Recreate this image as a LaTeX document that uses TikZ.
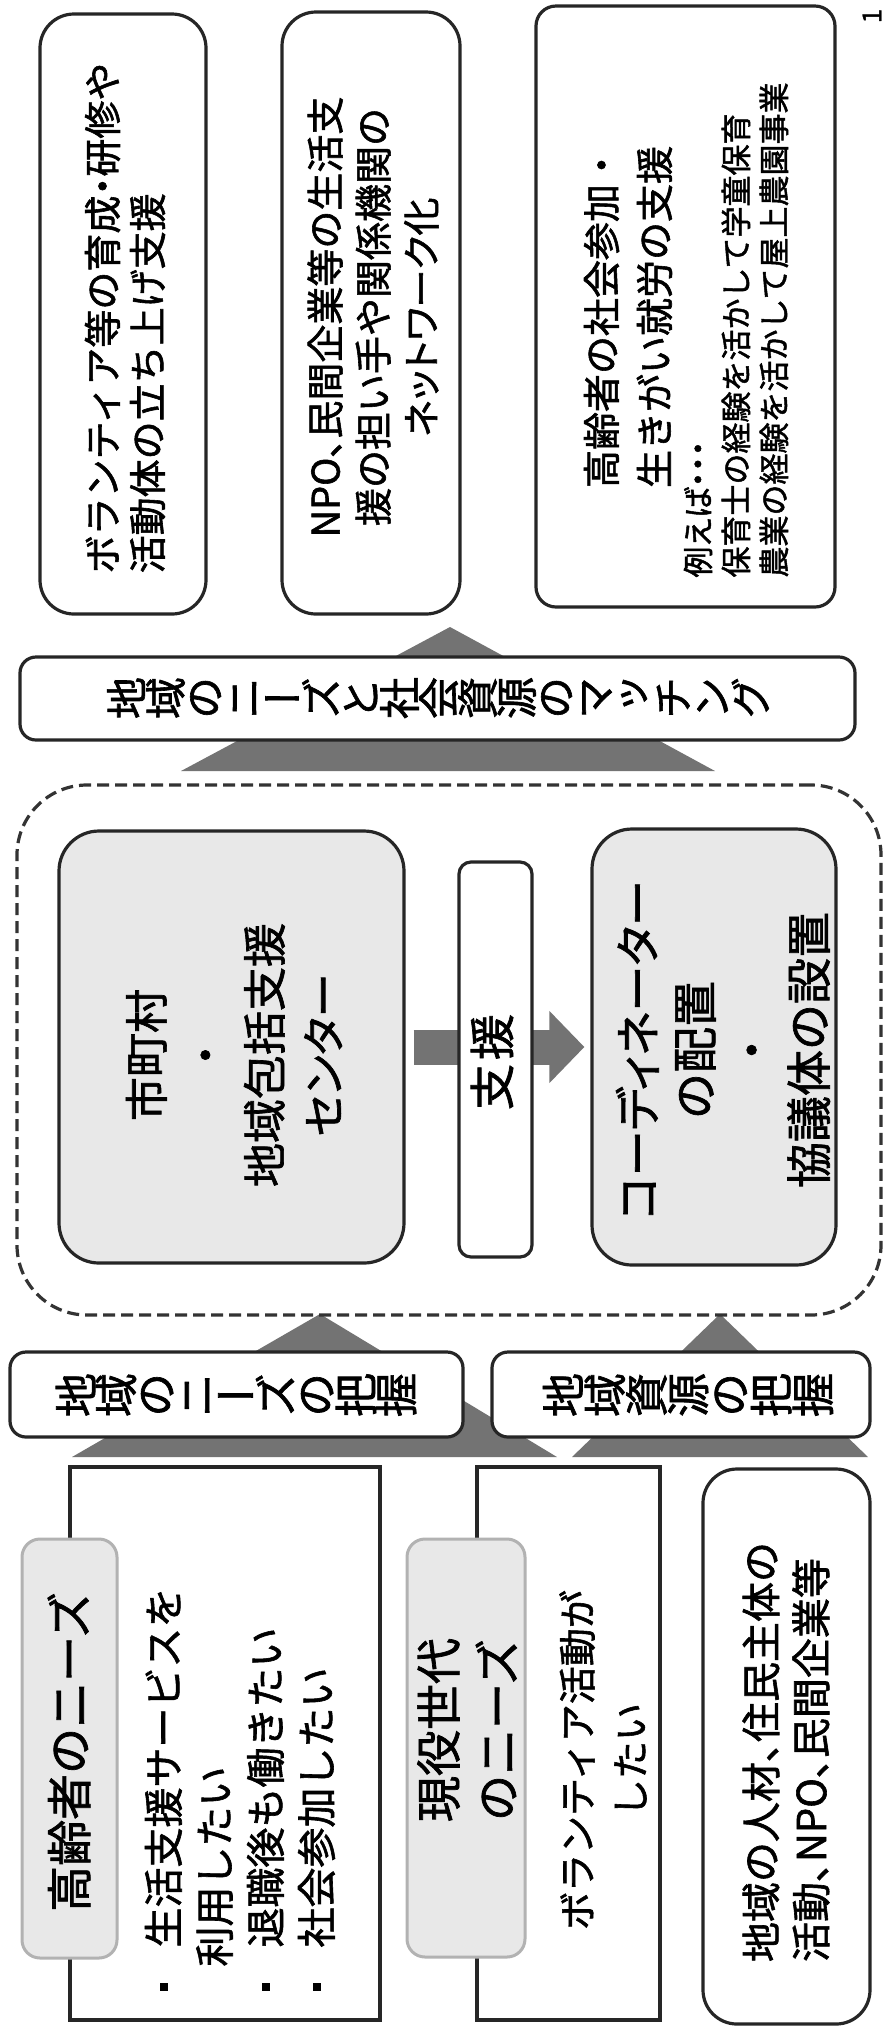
\documentclass[tikz,border=0pt]{standalone}
\usepackage{fontspec}
\setmainfont{Noto Sans CJK JP}[FakeBold=1.5]
\newfontfamily\kana{Noto Sans CJK JP}[RawFeature=+palt,FakeBold=1.5]
\newfontfamily\tate{Noto Sans CJK JP}[RawFeature=+vert,FakeBold=1.5]
\usetikzlibrary{arrows.meta}
\lineskiplimit=-100pt
\newcommand\needbullet{\rule[5.5pt]{4pt}{4pt}\hspace{17.5pt}}

\begin{document}
\begin{tikzpicture}[x=0.5pt,y=-0.5pt,
		roundbox/.style={draw=black!85,line width=1.6pt,fill=white,inner sep=0pt},
		graybox/.style={roundbox,fill=black!9,rounded corners=20pt},
		labelbox/.style={draw=black!30,line width=1.5pt,fill=black!9,rounded corners=9pt,inner sep=0pt},
		needbox/.style={draw=black!85,line width=1.6pt,fill=white,inner sep=0pt},
		region/.style={draw=black!80,line width=1.6pt,dash pattern=on 6pt off 3pt,rounded corners=35pt,inner sep=0pt},
		shade/.style={fill=black!55},
		yoko/.style={rotate=90,inner sep=0pt},
		tatebox/.style={rotate=90,inner sep=0pt,align=center},
		support/.style={line width=17.5pt,draw=black!55,-{Triangle[length=17.5pt,width=35pt]},shorten <=4pt,shorten >=3pt}]
	
	\useasboundingbox (0,0) rectangle (886,2031);
	
	\fill[shade] (181,771) -- (450,627) -- (715,771) -- cycle;
	\fill[shade] (72,1457) -- (320,1314) -- (557,1457) -- cycle;
	\fill[shade] (572,1457) -- (720,1314) -- (868,1457) -- cycle;
	
	\draw (123,314) node[roundbox,rounded corners=17pt,minimum width=83pt,minimum height=300pt] (volBox) {};
	\draw (125,318) node[yoko,align=left,font=\fontsize{19}{22.5}\selectfont] (volText) {ボランティア等の育成{\kana ・}研修や\\活動体の立ち上げ支援};
	
	\draw (371,313) node[roundbox,rounded corners=17pt,minimum width=89pt,minimum height=301pt] (npoBox) {};
	\draw (373,317) node[yoko,align=center,font=\fontsize{19}{24}\selectfont] (npoText) {NPO{\kana 、}民間企業等の生活支\\援の担い手や関係機関の\\{\kana ネットワーク化}};
	
	\draw (685.5,306.5) node[roundbox,rounded corners=10pt,minimum width=149.5pt,minimum height=300.5pt] (elderBox) {};
	\draw (628,317) node[yoko,align=left,font=\fontsize{19}{26.5}\selectfont] (elderText) {高齢者の社会参加・\\生きがい就労の支援};
	\draw (736,330) node[yoko,align=left,font=\fontsize{15.5}{19}\selectfont] (exampleText) {{\kana 例えば・・・}\\保育士の経験を活かして学童保育\\農業の経験を活かして屋上農園事業};
	
	\draw (872,16) node[yoko,font=\fontsize{13}{13}\selectfont] (pageNum) {1};
	
	\draw (437.5,698.5) node[roundbox,rounded corners=8pt,minimum width=417.5pt,minimum height=41.5pt] (matchBox) {};
	\draw (438,698) node[tatebox,font=\tate\fontsize{21}{19.5}\selectfont] (matchText) {地\\域\\の\\ニ\\ー\\ズ\\と\\社\\会\\資\\源\\の\\マ\\ッ\\チ\\ン\\グ};
	
	\draw (449,1050) node[region,minimum width=432pt,minimum height=265pt] (regionBox) {};
	\draw (231.5,1047) node[graybox,minimum width=172.5pt,minimum height=216pt] (cityBox) {};
	\draw (714,1047) node[graybox,minimum width=122pt,minimum height=218pt] (coordBox) {};
	\draw[support] (cityBox.east) -- (coordBox.west);
	\draw (495.5,1059.5) node[roundbox,rounded corners=6pt,minimum width=36.5pt,minimum height=197.5pt] (supportBox) {};
	\draw (234,1055) node[yoko,align=center,font=\fontsize{22}{29.5}\selectfont] (cityText) {市町村\\・\\地域包括支援\\{\kana センター}};
	\draw (492,1062) node[yoko,font=\fontsize{23}{23}\selectfont] (supportText) {支\hspace{2pt}援};
	\draw (723,1050) node[yoko,align=center,font=\fontsize{23}{28.5}\selectfont] (coordText) {{\kana コーディネーター}\\の配置\\・\\協議体の設置};
	
	\draw (236.5,1394.5) node[roundbox,rounded corners=8pt,minimum width=226.5pt,minimum height=42.5pt] (needGrasp) {};
	\draw (236,1395) node[tatebox,font=\tate\fontsize{22}{20}\selectfont] (needGraspText) {地\\域\\の\\ニ\\ー\\ズ\\の\\把\\握};
	\draw (681,1394.5) node[roundbox,rounded corners=8pt,minimum width=189pt,minimum height=42.5pt] (resGrasp) {};
	\draw (688,1395) node[tatebox,font=\tate\fontsize{22}{20.8}\selectfont] (resGraspText) {地\\域\\資\\源\\の\\把\\握};
	
	\draw (225,1743.5) node[needbox,minimum width=155pt,minimum height=276.5pt] (elderNeeds) {};
	\draw (568.5,1743.5) node[needbox,minimum width=91.5pt,minimum height=276.5pt] (workerNeeds) {};
	\draw (786.5,1746.5) node[roundbox,rounded corners=17pt,minimum width=83.5pt,minimum height=277.5pt] (resBox) {};
	\draw (69.5,1748.5) node[labelbox,minimum width=47.5pt,minimum height=209.5pt] (elderLabel) {};
	\draw (466,1748) node[labelbox,minimum width=59pt,minimum height=209pt] (workerLabel) {};
	
	\draw (69,1752) node[yoko,font=\fontsize{23}{23}\selectfont] (elderLabelText) {高齢者のニーズ};
	\draw (240,1789) node[yoko,align=left,font=\fontsize{20}{25.5}\selectfont] (elderNeedsText) {\needbullet 生活支援サービスを\\\hspace*{12pt}利用したい\\\needbullet 退職後も働きたい\\\needbullet 社会参加したい};
	\draw (467,1730) node[yoko,align=center,font=\fontsize{23}{29.5}\selectfont] (workerLabelText) {現役世代\\のニーズ};
	\draw (603,1760) node[yoko,align=center,font=\fontsize{19}{26.5}\selectfont] (workerNeedsText) {ボランティア活動が\\したい};
	\draw (786,1752) node[yoko,align=left,font=\fontsize{20}{25}\selectfont] (resText) {地域の人材{\kana 、}住民主体の\\活動{\kana 、}NPO{\kana 、}民間企業等};
	
\end{tikzpicture}
\end{document}
